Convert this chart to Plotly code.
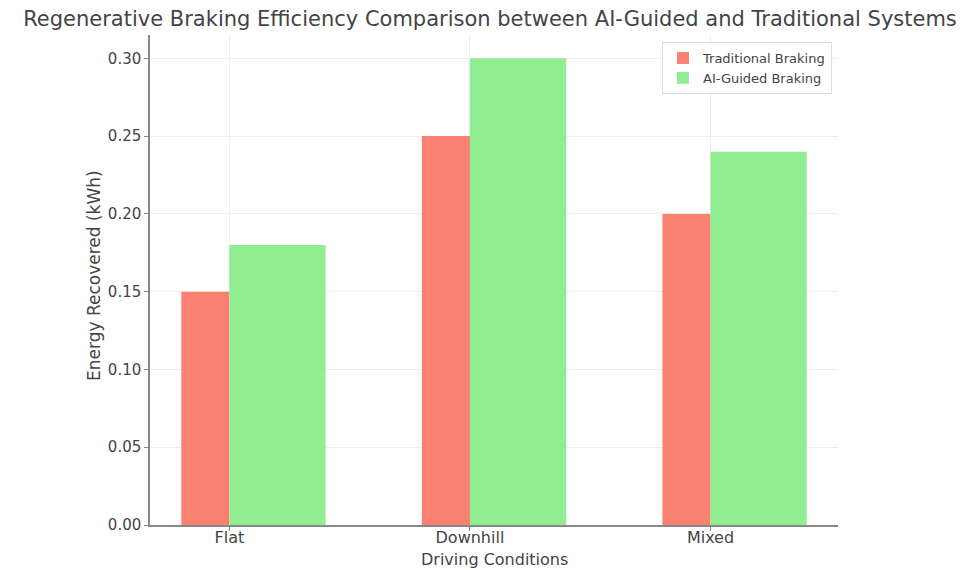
import plotly.graph_objects as go

categories = ["Flat", "Downhill", "Mixed"]
traditional = [0.15, 0.25, 0.20]
ai_guided = [0.18, 0.30, 0.24]
y_ticks = [0.0, 0.05, 0.10, 0.15, 0.20, 0.25, 0.30]
y_tick_labels = ["0.00", "0.05", "0.10", "0.15", "0.20", "0.25", "0.30"]

FONT = "DejaVu Sans"
TXT = "#444444"

L, R, T, B = 142, 150, 27, 53
W, H = 980, 570
PW, PH = W - L - R, H - T - B

fig = go.Figure()
fig.add_trace(go.Bar(x=categories, y=traditional, name="Traditional Braking",
                     marker=dict(color="#FA8072", line=dict(width=0)),
                     offset=-0.2, width=0.2))
fig.add_trace(go.Bar(x=categories, y=ai_guided, name="AI-Guided Braking",
                     marker=dict(color="#90EE90", line=dict(width=0)),
                     offset=0.0, width=0.4))

fig.add_annotation(text="Driving Conditions", xref="paper", yref="paper",
                   x=0.5, y=-(551 - (H - B)) / PH, xanchor="center", yanchor="middle",
                   showarrow=False, font=dict(family=FONT, size=16, color=TXT))
fig.add_annotation(text="Energy Recovered (kWh)", xref="paper", yref="paper",
                   x=(86 - L) / PW, y=(H - B - 268) / PH, xanchor="center", yanchor="middle",
                   textangle=-90,
                   showarrow=False, font=dict(family=FONT, size=17, color=TXT))

fig.update_layout(
    width=W, height=H,
    margin=dict(l=L, r=R, t=T, b=B),
    paper_bgcolor="white", plot_bgcolor="white",
    barmode="overlay",
    font=dict(family=FONT, color=TXT, size=13),
    title=dict(text="Regenerative Braking Efficiency Comparison between AI-Guided and Traditional Systems",
               x=482 / W, xanchor="center", y=1 - 11 / H, yanchor="middle",
               font=dict(family=FONT, size=21, color=TXT)),
    legend=dict(x=(824 - L) / PW, y=(H - B - 34) / PH, xanchor="right", yanchor="top",
                bgcolor="rgba(255,255,255,0.8)", bordercolor="#dddddd", borderwidth=1,
                font=dict(family=FONT, size=13, color=TXT), tracegroupgap=0),
    xaxis=dict(type="category", range=[-0.33, 2.53], automargin=False,
               showline=True, linecolor="#888888", linewidth=1.5,
               showgrid=True, gridcolor="#eeeeee", gridwidth=1,
               ticks="outside", ticklen=4, tickcolor="#888888",
               ticklabelstandoff=-7,
               tickfont=dict(size=16)),
    yaxis=dict(range=[0, 0.315], tickvals=y_ticks, ticktext=y_tick_labels, automargin=False,
               showline=True, linecolor="#888888", linewidth=1.5,
               showgrid=True, gridcolor="#eeeeee", gridwidth=1,
               zeroline=False,
               ticks="outside", ticklen=4, tickcolor="#888888",
               tickfont=dict(size=15)),
)

fig.write_html("out.html")
